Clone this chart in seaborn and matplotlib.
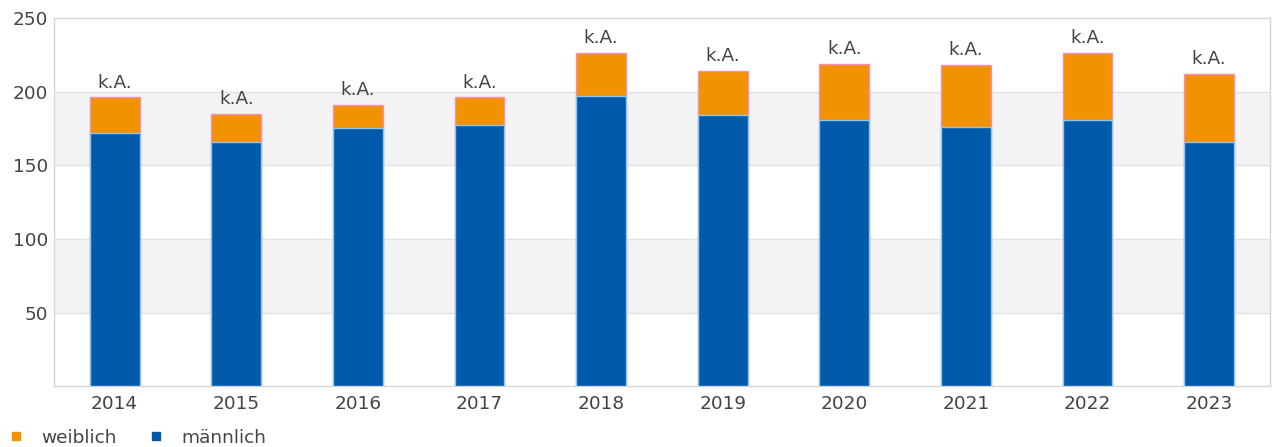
import matplotlib
matplotlib.use("Agg")
import matplotlib.pyplot as plt
from matplotlib.lines import Line2D
import seaborn as sns
import pandas as pd

years = ["2014", "2015", "2016", "2017", "2018", "2019", "2020", "2021", "2022", "2023"]
maennlich = [172, 166, 175, 177, 197, 184, 181, 176, 181, 166]
weiblich = [24, 19, 16, 19, 29, 30, 38, 42, 45, 46]
top_label = "k.A."
y_ticks = [50, 100, 150, 200, 250]

total = [m + w for m, w in zip(maennlich, weiblich)]
df = pd.DataFrame({"Jahr": years, "männlich": maennlich, "gesamt": total})

ORANGE = "#f39200"
BLUE = "#005aaa"
TEXT = "#444444"
FS = 13.3

sns.set_theme(style="white")
plt.rcParams["font.family"] = ["DejaVu Sans"]

fig = plt.figure(figsize=(12.82, 4.47), dpi=100)
ax = fig.add_axes([0.042, 0.136, 0.9486, 0.824])

# alternating horizontal bands
for lo, hi in [(50, 100), (150, 200)]:
    ax.axhspan(lo, hi, color="#f3f3f3", zorder=0, lw=0)
for y in [50, 100, 150, 200]:
    ax.axhline(y, color="#e2e2e2", lw=1, zorder=0.5)

bw = 0.41
sns.barplot(data=df, x="Jahr", y="gesamt", color=ORANGE, width=bw,
            edgecolor="#f48fb8", linewidth=1.0, saturation=1, ax=ax, zorder=2)
sns.barplot(data=df, x="Jahr", y="männlich", color=BLUE, width=bw,
            edgecolor="#8ec5f5", linewidth=1.0, saturation=1, ax=ax, zorder=3)

for i, t in enumerate(total):
    ax.text(i, t + 4, top_label, ha="center", va="bottom", fontsize=FS,
            color=TEXT, zorder=4)

ax.set_ylim(0, 250)
ax.set_xlim(-0.5, len(years) - 0.5)
ax.set_yticks(y_ticks)
ax.set_xlabel("")
ax.set_ylabel("")
ax.tick_params(axis="both", length=0, labelsize=FS, labelcolor=TEXT)
ax.tick_params(axis="x", pad=6)
ax.tick_params(axis="y", pad=4)
for s in ax.spines.values():
    s.set_color("#d6d6d6")
    s.set_linewidth(1)

handles = [
    Line2D([], [], marker="s", ls="", color=ORANGE, markersize=6, label="weiblich"),
    Line2D([], [], marker="s", ls="", color=BLUE, markersize=6, label="männlich"),
]
leg = fig.legend(handles=handles, loc="lower left", bbox_to_anchor=(-0.008, -0.037),
                 ncol=2, frameon=False, fontsize=FS, handletextpad=0.9,
                 columnspacing=1.6, handlelength=1.0)
for txt in leg.get_texts():
    txt.set_color(TEXT)

fig.savefig("out.png", dpi=100)
